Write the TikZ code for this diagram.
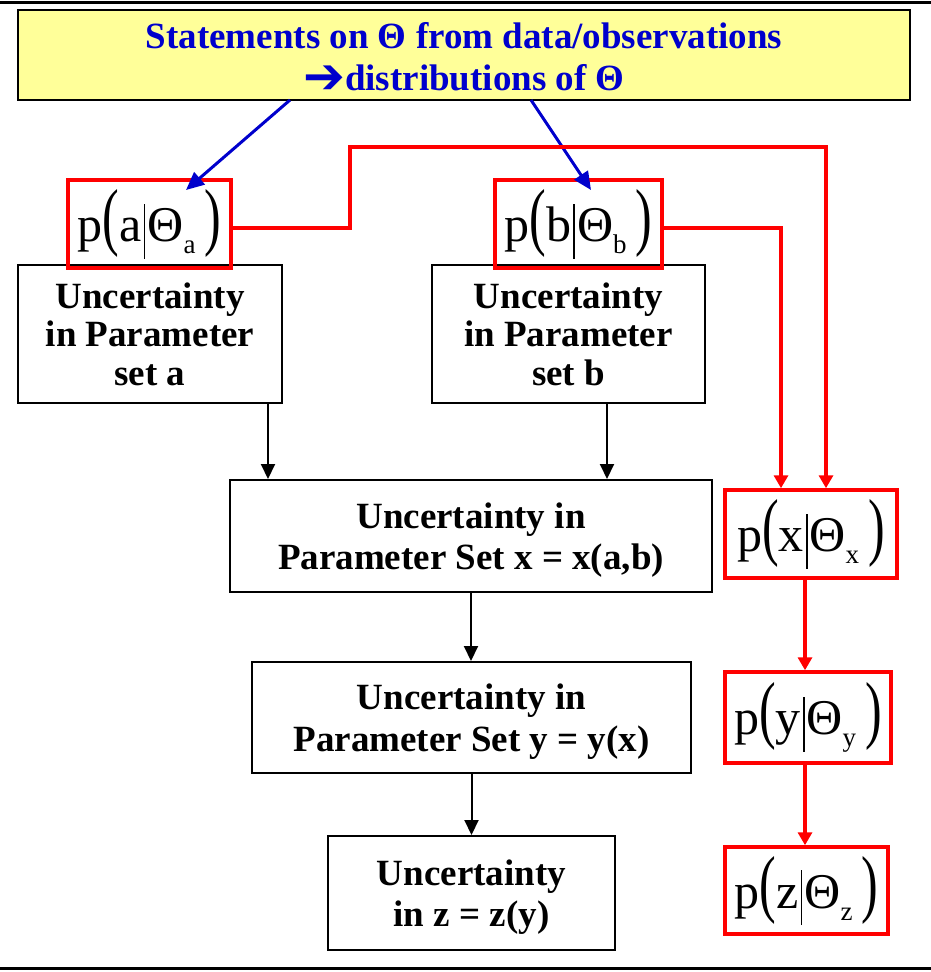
\documentclass[tikz,border=0pt]{standalone}
\usepackage{fontspec}
\setmainfont{Liberation Serif}
\newfontfamily\arrowfont{DejaVu Sans}
\usetikzlibrary{arrows.meta}

\definecolor{titleblue}{RGB}{0,0,204}
\definecolor{noteyellow}{RGB}{255,255,153}
\definecolor{linkred}{RGB}{255,0,0}

% conditional distribution p(v | Theta_v) with tall parentheses
\newcommand\tallparen[1]{\scalebox{1}[1.5]{#1}}
\newcommand\givenbar{\hspace{2pt}\rule[-17pt]{1.8pt}{55pt}\hspace{2pt}}
\newcommand\pdist[1]{p\tallparen{(}#1\givenbar Θ\raisebox{-12pt}{\fontsize{27pt}{27pt}\selectfont #1}\hspace{9pt}\tallparen{)}}

\begin{document}
\begin{tikzpicture}[x=1pt,y=-1pt,
  titlebox/.style={draw=black, line width=2.5pt, fill=noteyellow, text=titleblue,
    align=center, inner sep=0pt, minimum width=892pt, minimum height=90pt,
    font=\bfseries\fontsize{37pt}{42pt}\selectfont},
  ubox/.style={draw=black, line width=2pt, fill=white, align=center, inner sep=0pt,
    text depth=0pt, font=\bfseries\fontsize{37pt}{41.5pt}\selectfont},
  pbox/.style={draw=linkred, line width=3.5pt, inner sep=0pt,
    font=\fontsize{50pt}{50pt}\selectfont},
  flow/.style={draw=black, line width=2pt, -{Triangle[length=15pt,width=14pt]}},
  link/.style={draw=linkred, line width=4pt, -{Triangle[length=13pt,width=14pt]}},
  feed/.style={draw=titleblue, line width=3pt, -{Triangle[length=18pt,width=16pt]}}
]
\useasboundingbox (0,0) rectangle (931,972);

% rules framing the page
\draw[line width=3pt] (0,2) -- (931,2);
\draw[line width=3pt] (0,968) -- (931,968);

% header
\node[titlebox] (title) at (464,55)
  {\rule{0pt}{32pt}Statements on Θ from data/observations\\{\arrowfont\fontsize{50pt}{50pt}\selectfont\raisebox{-3pt}{➔}}distributions of Θ};

% uncertainty boxes
\node[ubox, minimum width=264pt, minimum height=138pt, font=\bfseries\fontsize{37pt}{38.5pt}\selectfont]
  (ua) at (150,334) {Uncertainty\\in Parameter\\set a};
\node[ubox, minimum width=273pt, minimum height=138pt, font=\bfseries\fontsize{37pt}{38.5pt}\selectfont]
  (ub) at (568.5,334) {Uncertainty\\in Parameter\\set b};
\node[ubox, minimum width=482pt, minimum height=112pt] (ux) at (471,536)
  {Uncertainty in\\Parameter Set x = x(a,b)};
\node[ubox, minimum width=439pt, minimum height=111pt] (uy) at (471.5,717.5)
  {Uncertainty in\\Parameter Set y = y(x)};
\node[ubox, minimum width=287pt, minimum height=114pt] (uz) at (471.5,893)
  {Uncertainty\\in z = z(y)};

% distributions
\node[pbox, minimum width=163pt, minimum height=88pt] (pa) at (149.5,224) {\pdist{a}};
\node[pbox, minimum width=167pt, minimum height=88pt] (pb) at (578.5,224) {\pdist{b}};
\node[pbox, minimum width=172pt, minimum height=88pt] (px) at (811,534) {\pdist{x}};
\node[pbox, minimum width=166pt, minimum height=91pt] (py) at (808,717.5) {\pdist{y}};
\node[pbox, minimum width=163pt, minimum height=87pt] (pz) at (806.5,890.5) {\pdist{z}};

% header to the input distributions
\coordinate (fa) at (290,100);
\coordinate (fb) at (531,100);
\coordinate (ha) at (186,190);
\coordinate (hb) at (591,190);
\draw[feed] (fa) -- (ha);
\draw[feed] (fb) -- (hb);

% propagation of uncertainty
\draw[flow] ([xshift=118pt]ua.south) -- ([xshift=118pt]ua.south |- ux.north);
\draw[flow] ([xshift=38.5pt]ub.south) -- ([xshift=38.5pt]ub.south |- ux.north);
\draw[flow] (ux.south) -- (ux.south |- uy.north);
\draw[flow] (uy.south) -- (uy.south |- uz.north);

% propagation of distributions
\coordinate (ka) at (350,147);
\draw[link] ([yshift=-4pt]pa.east) -| (ka) -| ([xshift=15pt]px.north);
\draw[link] ([yshift=-4pt]pb.east) -| ([xshift=-30pt]px.north);
\draw[link] ([xshift=-6pt]px.south) -- ([xshift=-3pt]py.north);
\draw[link] ([xshift=-3pt]py.south) -- ([xshift=-1.5pt]pz.north);
\end{tikzpicture}
\end{document}
